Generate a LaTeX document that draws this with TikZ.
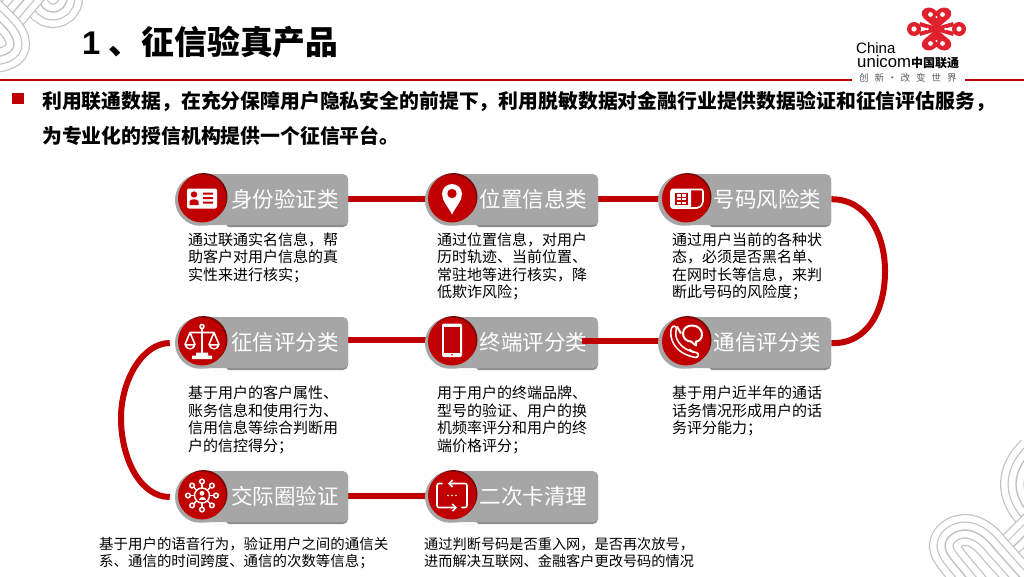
\documentclass[tikz,border=0pt]{standalone}
\usepackage{fontspec}
\setmainfont{Noto Sans CJK SC}
\newfontfamily\lat{Liberation Sans}
\usetikzlibrary{backgrounds,arrows.meta}
\definecolor{cured}{HTML}{C00000}
\definecolor{cudark}{HTML}{7A0A0A}
\definecolor{boxg}{HTML}{A6A6A6}
\definecolor{boxd}{HTML}{8C8C8C}
\definecolor{patg}{HTML}{BFC1C3}
\definecolor{logor}{HTML}{E0202C}
\tikzset{
 linkline/.style={draw=cured,line width=6pt},
 boxnode/.style={fill=boxg,rounded corners=5pt,minimum width=145pt,minimum height=51pt,inner sep=0pt,anchor=north west},
 disc/.style={circle,fill=cured,minimum size=48pt,inner sep=0pt},
 halo/.style={circle,fill=boxg,minimum size=52pt,inner sep=0pt},
 lab/.style={text=white,font=\fontsize{21.5}{24}\selectfont,inner sep=0pt},
 desc/.style={anchor=north west,align=left,inner sep=0pt,font=\fontsize{15}{17.4}\selectfont,text=black},
 ic/.style={draw=white,line width=1.6pt,line cap=round,line join=round},
}
% item: name, x, y, disc dx, label, label centre dx
\newcommand{\Item}[6]{%
 \fill[boxd,rounded corners=5pt] (#2+28,#3+4) rectangle (#2+173,#3+53);
 \node[halo] (#1-g) at (#2+26,#3+26) {};
 \fill[white] (#2+20,#3+51.7) .. controls (#2+30,#3+52) and (#2+40,#3+51) .. (#2+48,#3+48.5) -- (#2+54,#3+53.5) -- (#2+20,#3+54) -- cycle;
 \node[boxnode] (#1) at (#2+28,#3) {};
 \fill[cudark] (#2+#4+1.5,#3+23) circle (24pt);
 \node[disc] (#1-c) at (#2+#4,#3+24.5) {};
 \node[lab] (#1-t) at (#2+#6,#3+25) {#5};
}
% stacked parallel lines along a path
\newcommand{\Bands}[1]{%
 \draw[patg,line width=32pt] #1;
 \draw[white,line width=29.6pt] #1;
 \draw[patg,line width=17pt] #1;
 \draw[white,line width=14.6pt] #1;
 \draw[patg,line width=1.4pt] #1;
}
\begin{document}
\begin{tikzpicture}[x=1pt,y=-1pt]
\useasboundingbox (0,0) rectangle (1024,576);
% corner patterns
\begin{scope}
\clip (0,0) rectangle (100,79);
\Bands{(67,-25) -- (67,-2) arc (0:180:14) -- (39,-25)}
\Bands{(45,-25) -- (5,22)}
\Bands{(-22,0) -- (3,25) .. controls (10,32) and (14,38) .. (14,44) .. controls (14,52) and (6,58) .. (-22,58)}
\end{scope}
\begin{scope}
\clip (900,440) rectangle (1024,576);
\Bands{(1045,440) .. controls (1025,455) and (1016,470) .. (1016,484) .. controls (1016,505) and (1035,520) .. (1045,530)}
\Bands{(995,565) -- (1050,510)}
\Bands{(985,600) -- (960,570) .. controls (950,558) and (945,552) .. (945,546) .. controls (945,537) and (955,530) .. (965,530) .. controls (975,530) and (985,537) .. (992,546) -- (1040,600)}
\end{scope}
% header
\node[anchor=west,inner sep=0pt,font=\fontsize{32.8}{36}\selectfont\bfseries] (title) at (82,42) {{\lat 1}\hspace{8.5pt}、征信验真产品};
\coordinate (ruleA) at (0,80);
\coordinate (ruleB) at (852,80);
\coordinate (ruleC) at (965,80);
\coordinate (ruleD) at (1024,80);
\draw[cured,line width=2.2pt] (ruleA) -- (ruleB);
\draw[cured,line width=2.2pt] (ruleC) -- (ruleD);
% logo
\begin{scope}[shift={(936.5,29)}]
 \fill[logor] (0,0) -- (-13,-11) .. controls (-17,-15) and (-14,-21.5) .. (-8,-21.5) .. controls (-4,-21.5) and (-1,-19) .. (0,-17.5) .. controls (1,-19) and (4,-21.5) .. (8,-21.5) .. controls (14,-21.5) and (17,-15) .. (13,-11) -- cycle;
 \fill[logor] (0,0) -- (-13,11) .. controls (-17,15) and (-14,21.5) .. (-8,21.5) .. controls (-4,21.5) and (-1,19) .. (0,17.5) .. controls (1,19) and (4,21.5) .. (8,21.5) .. controls (14,21.5) and (17,15) .. (13,11) -- cycle;
 \draw[logor,line width=4pt] (-17,-5) -- (17,5) (-17,5) -- (17,-5);
 \fill[logor] (-22.5,0) circle (7) (22.5,0) circle (7);
 \fill[white] (-22.5,0) circle (2.6) (22.5,0) circle (2.6);
 \fill[white] (-6,-14.5) circle (2.4) (6,-14.5) circle (2.4) (-6,14.5) circle (2.4) (6,14.5) circle (2.4);
 \fill[white] (0,-12) circle (1.2) (0,12) circle (1.2) (-9,0) circle (1.3) (9,0) circle (1.3);
\end{scope}
\node[anchor=base west,inner sep=0pt,font=\lat\fontsize{15}{16}\selectfont] (china) at (856,53) {China};
\node[anchor=base west,inner sep=0pt,font=\fontsize{16.7}{17}\selectfont] (unic) at (857,67) {{\lat unicom}\fontsize{12}{12}\selectfont\bfseries 中国联通};
\node[anchor=base west,inner sep=0pt,font=\fontsize{9.5}{10}\selectfont,text=black!65] (slog) at (859,81.5) {创\hspace{6pt}新\hspace{3.5pt}·\hspace{3.5pt}改\hspace{6pt}变\hspace{6pt}世\hspace{6pt}界};
% intro
\fill[cured] (11.5,92.5) rectangle (23.5,104);
\node[anchor=base west,inner sep=0pt,font=\fontsize{19.85}{22}\selectfont\bfseries] (l1) at (42,108) {利用联通数据，在充分保障用户隐私安全的前提下，利用脱敏数据对金融行业提供数据验证和征信评估服务，};
\node[anchor=base west,inner sep=0pt,font=\fontsize{19.85}{22}\selectfont\bfseries] (l2) at (42,143) {为专业化的授信机构提供一个征信平台。};
% items
\Item{sf}{175}{174}{27}{身份验证类}{110}
\Item{wz}{425}{174}{27}{位置信息类}{108.5}
\Item{hm}{658}{174}{28}{号码风险类}{109.5}
\Item{zx}{175}{317}{27}{征信评分类}{110}
\Item{zd}{425}{317}{27}{终端评分类}{108.5}
\coordinate (zdout) at (582,340.5);
\coordinate (txin) at (690,340.5);
\draw[linkline] (zdout) -- (txin);
\Item{tx}{658}{317}{28}{通信评分类}{109.5}
\Item{jj}{175}{471}{27}{交际圈验证}{110}
\Item{ec}{425}{471}{27}{二次卡清理}{108.5}
% connectors
\begin{scope}[on background layer]
 \draw[linkline] (sf.east |- wz-c.west) -- (wz-c.west);
 \draw[linkline] (wz.east |- hm-c.west) -- (hm-c.west);
 \draw[linkline] (zx.east |- zd-c.west) ++(0,-1.5) -- ++(80,0);
 \draw[linkline] (jj.east |- ec-c.west) -- (ec-c.west);
 \draw[linkline] ([yshift=0.5pt]hm.east) .. controls +(36,0) and (885,235) .. (885,271) .. controls (885,310) and (868,344) .. ([yshift=-0.5pt]tx.east);
 \draw[linkline,shorten <=5pt,shorten >=5pt] (zx-g.west) .. controls +(-32,0) and (121,380) .. (121,418) .. controls (121,458) and (140,497) .. (jj-g.west);
\end{scope}
% descriptions
\node[desc] (d1) at (188,232.5) {通过联通实名信息，帮\\助客户对用户信息的真\\实性来进行核实；};
\node[desc] (d2) at (437,232.5) {通过位置信息，对用户\\历时轨迹、当前位置、\\常驻地等进行核实，降\\低欺诈风险；};
\node[desc] (d3) at (672,232.5) {通过用户当前的各种状\\态，必须是否黑名单、\\在网时长等信息，来判\\断此号码的风险度；};
\node[desc] (d4) at (188,386) {基于用户的客户属性、\\账务信息和使用行为、\\信用信息等综合判断用\\户的信控得分；};
\node[desc] (d5) at (437,386) {用于用户的终端品牌、\\型号的验证、用户的换\\机频率评分和用户的终\\端价格评分；};
\node[desc] (d6) at (672,386) {基于用户近半年的通话\\话务情况形成用户的话\\务评分能力；};
\node[desc,font=\fontsize{14.45}{17.5}\selectfont] (d7) at (99,537) {基于用户的语音行为，验证用户之间的通信关\\系、通信的时间跨度、通信的次数等信息；};
\node[desc,font=\fontsize{14.2}{17.5}\selectfont] (d8) at (424,537) {通过判断号码是否重入网，是否再次放号，\\进而解决互联网、金融客户更改号码的情况};
% icons
\begin{scope}[shift={(sf-c.center)}]
 \fill[white,rounded corners=2pt] (-15,-10) rectangle (15,10);
 \fill[cured] (-8,-4) circle (3.2);
 \fill[cured] (-12.5,6.5) -- (-12.5,3) .. controls (-12.5,0) and (-3.5,0) .. (-3.5,3) -- (-3.5,6.5) -- cycle;
 \fill[cured] (1,-6) rectangle (11,-4) (1,-1.5) rectangle (11,.5) (1,3) rectangle (11,5);
\end{scope}
\begin{scope}[shift={(wz-c.center)}]
 \fill[white] (0,16) .. controls (-3,9) and (-10,3) .. (-10,-4.5) .. controls (-10,-10) and (-5.5,-14.5) .. (0,-14.5) .. controls (5.5,-14.5) and (10,-10) .. (10,-4.5) .. controls (10,3) and (3,9) .. (0,16) -- cycle;
 \fill[cured] (0,-5) circle (4.7);
\end{scope}
\begin{scope}[shift={(hm-c.center)}]
 \draw[white,line width=1.6pt,rounded corners=2pt] (-15,-9) -- (17,-9) -- (17,5) -- (13,9.5) -- (-15,9.5) -- cycle;
 \fill[white,rounded corners=1pt] (-15,-9) rectangle (5,9.5);
 \draw[cured,line width=1.1pt] (-10,-5) rectangle (1,6) (-10,-1) -- (1,-1) (-10,2.5) -- (1,2.5) (-4.5,-5) -- (-4.5,6);
\end{scope}
\begin{scope}[shift={(zx-c.center)}]
 \draw[ic] (0,-15) circle (2) (0,-13) -- (0,12) (-12,-9) -- (12,-9) (-12,-9) -- (-17,3) (-12,-9) -- (-7,3) (12,-9) -- (17,3) (12,-9) -- (7,3);
 \fill[white] (-17.5,2.5) .. controls (-17,10) and (-7,10) .. (-6.5,2.5) -- cycle (6.5,2.5) .. controls (7,10) and (17,10) .. (17.5,2.5) -- cycle;
 \fill[cured] (-15,4.2) .. controls (-14,7.5) and (-10,7.5) .. (-9,4.2) -- cycle (9,4.2) .. controls (10,7.5) and (14,7.5) .. (15,4.2) -- cycle;
 \fill[white] (-10,14) rectangle (10,17.5) (-6,11) rectangle (6,14);
\end{scope}
\begin{scope}[shift={(zd-c.center)}]
 \fill[white,rounded corners=2pt] (-10,-18) rectangle (10,15.5);
 \fill[cured] (-7.6,-14.5) rectangle (7.6,11);
 \fill[cured] (0,13.2) circle (.8);
\end{scope}
\begin{scope}[shift={(tx-c.center)}]
 \draw[white,line width=6.5pt,line cap=round] (-12,-13) .. controls (-15,-5) and (-10,10) .. (10,13.5);
 \draw[cured,line width=3.2pt,line cap=round] (-12,-13) .. controls (-15,-5) and (-10,10) .. (10,13.5);
 \draw[white,line width=2pt] (-9,-15) -- (-5,-8) (3,8) -- (8,11);
 \draw[white,line width=2pt,line join=round] (-3,-8) .. controls (-3,-14) and (2,-16) .. (6,-16) .. controls (12,-16) and (16,-12) .. (16,-7) .. controls (16,-3) and (13,0) .. (10,0) -- (10,4) -- (5,0) .. controls (1,0) and (-3,-3) .. (-3,-8) -- cycle;
\end{scope}
\begin{scope}[shift={(jj-c.center)}]
 \foreach \a in {0,45,...,315}{
  \draw[white,line width=1.4pt] (\a:7.5) -- (\a:12);
  \draw[white,line width=1.5pt] (\a:14) circle (2.3);
 }
 \draw[white,line width=1.4pt] (0,0) circle (7.5);
 \fill[white] (0,-2.2) circle (2.4);
 \fill[white] (-3.5,4.5) .. controls (-3.5,0.5) and (3.5,0.5) .. (3.5,4.5) -- cycle;
\end{scope}
\begin{scope}[shift={(ec-c.center)}]
 \draw[ic,rounded corners=2pt,-{Straight Barb[length=3.5pt,width=7pt]}] (15,7) -- (15,-12) -- (-4,-12);
 \draw[ic,rounded corners=2pt,-{Straight Barb[length=3.5pt,width=7pt]}] (-15,-7) -- (-15,12) -- (5,12);
 \draw[ic,rounded corners=2pt] (-15,-7) -- (-15,-12) -- (-10,-12) (15,7) -- (15,12) -- (10,12);
 \fill[white] (-4,0) circle (.9) (0,0) circle (.9) (4,0) circle (.9);
\end{scope}
\end{tikzpicture}
\end{document}
